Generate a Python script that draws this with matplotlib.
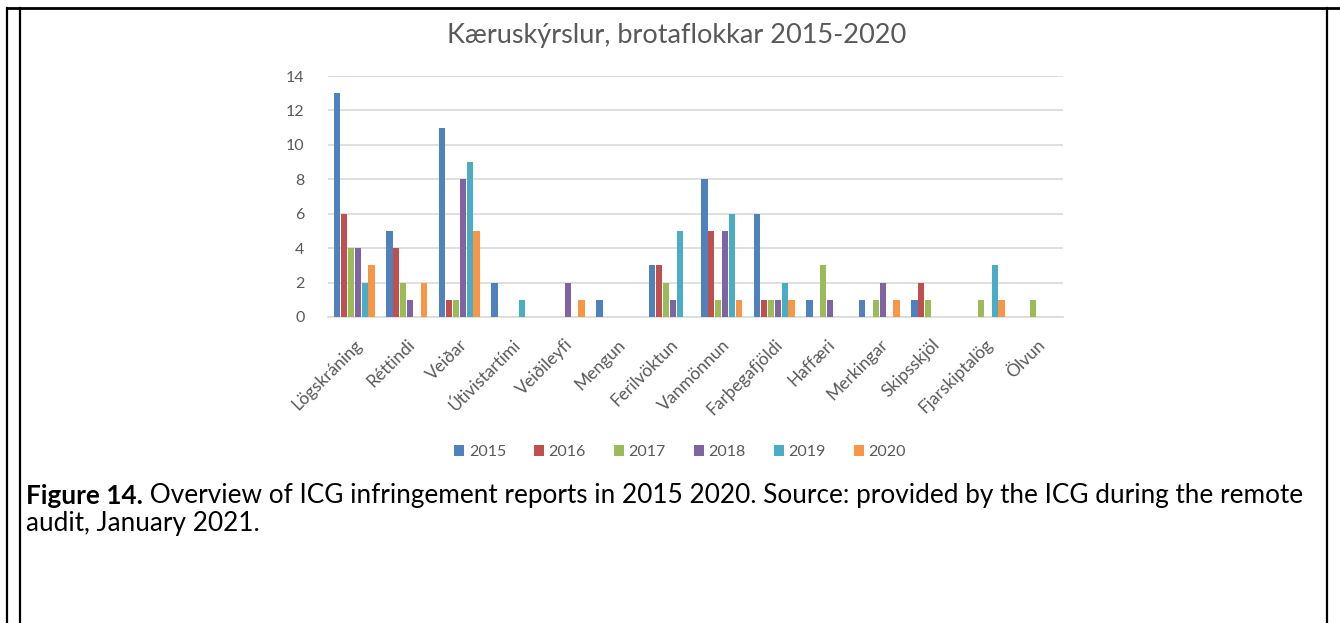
import matplotlib
matplotlib.use("Agg")
import matplotlib.pyplot as plt
import numpy as np
from matplotlib.lines import Line2D
from matplotlib.patches import Patch

categories = ["Lögskráning", "Réttindi", "Veiðar", "Útivistartími", "Veiðileyfi",
              "Mengun", "Ferilvöktun", "Vanmönnun", "Farþegafjöldi", "Haffæri",
              "Merkingar", "Skipsskjöl", "Fjarskiptalög", "Ölvun"]
years = ["2015", "2016", "2017", "2018", "2019", "2020"]
v2015 = [13, 5, 11, 2, 0, 1, 3, 8, 6, 1, 1, 1, 0, 0]
v2016 = [6, 4, 1, 0, 0, 0, 3, 5, 1, 0, 0, 2, 0, 0]
v2017 = [4, 2, 1, 0, 0, 0, 2, 1, 1, 3, 1, 1, 1, 1]
v2018 = [4, 1, 8, 0, 2, 0, 1, 5, 1, 1, 2, 0, 0, 0]
v2019 = [2, 0, 9, 1, 0, 0, 5, 6, 2, 0, 0, 0, 3, 0]
v2020 = [3, 2, 5, 0, 1, 0, 0, 1, 1, 0, 1, 0, 1, 0]
series = [v2015, v2016, v2017, v2018, v2019, v2020]
colors = ["#4F81BD", "#C0504D", "#9BBB59", "#8064A2", "#4BACC6", "#F79646"]
yticks = [0, 2, 4, 6, 8, 10, 12, 14]

title = "Kæruskýrslur, brotaflokkar 2015-2020"
cap_bold = "Figure 14."
cap_rest1 = " Overview of ICG infringement reports in 2015 2020. Source: provided by the ICG during the remote"
cap_line2 = "audit, January 2021."

W, H = 1340, 623
fig = plt.figure(figsize=(W / 100, H / 100), dpi=100)
fig.patch.set_facecolor("white")

gray = "#595959"
ax = fig.add_axes([328 / W, 1 - 317 / H, (1063 - 328) / W, (317 - 76) / H])
x = np.arange(len(categories))
bw = 0.133
for i, (vals, c) in enumerate(zip(series, colors)):
    ax.bar(x + (i - 2.5) * bw, vals, width=bw * 0.92, color=c, label=years[i], zorder=3)

ax.set_xlim(-0.5, len(categories) - 0.5)
ax.set_ylim(0, 14)
ax.set_yticks(yticks)
ax.set_yticklabels([str(t) for t in yticks], fontsize=11.5, color=gray, family="Lato")
ax.yaxis.grid(True, color="#D9D9D9", linewidth=1.2, zorder=0)
ax.set_axisbelow(True)
for s in ["top", "right", "left"]:
    ax.spines[s].set_visible(False)
ax.spines["bottom"].set_color("#D9D9D9")
ax.spines["bottom"].set_linewidth(1.2)
ax.tick_params(axis="y", length=0, pad=17)
ax.tick_params(axis="x", length=0, pad=14)
ax.set_xticks(x)
ax.set_xticklabels(categories, rotation=45, ha="right", va="top", rotation_mode="anchor",
                   fontsize=12.5, color=gray, family="Lato")

fig.text(677 / W, 1 - 35 / H, title, ha="center", va="center", fontsize=19.5,
         color=gray, family="Lato")

handles = [Patch(facecolor=c, edgecolor="none", label=y) for c, y in zip(colors, years)]
fig.legend(handles=handles, loc="center", bbox_to_anchor=(680 / W, 1 - 452 / H), ncol=6,
           frameon=False, handlelength=0.62, handleheight=0.62,
           handletextpad=0.3, columnspacing=1.75, prop={"family": "Lato", "size": 11.5},
           labelcolor=gray)

# caption
fs = 15
fig.canvas.draw()
r = fig.canvas.get_renderer()
t1 = fig.text(26 / W, 1 - 496 / H, cap_bold, ha="left", va="center", fontsize=fs,
              fontweight="bold", family="Lato", color="black")
bb = t1.get_window_extent(r)
t2 = fig.text(bb.x1 / W, 1 - 496 / H, cap_rest1, ha="left", va="center", fontsize=fs,
              family="Lato", color="black")
bb2 = t2.get_window_extent(r)
scale = (1302 - 26) / (bb2.x1 - bb.x0)
fs2 = fs * scale
t1.set_fontsize(fs2)
bb = t1.get_window_extent(r)
t2.set_fontsize(fs2)
t2.set_x(bb.x1 / W)
fig.text(26 / W, 1 - 523 / H, cap_line2, ha="left", va="center", fontsize=fs2,
         family="Lato", color="black")

# document borders
fig.add_artist(Line2D([7 / W, 1], [1 - 8 / H, 1 - 8 / H], color="black", lw=2,
                      transform=fig.transFigure))
for xx in [7, 20, 1327]:
    fig.add_artist(Line2D([xx / W, xx / W], [0, 1 - 8 / H], color="black", lw=1.6,
                          transform=fig.transFigure))

fig.savefig("out.png", dpi=100, facecolor="white")
